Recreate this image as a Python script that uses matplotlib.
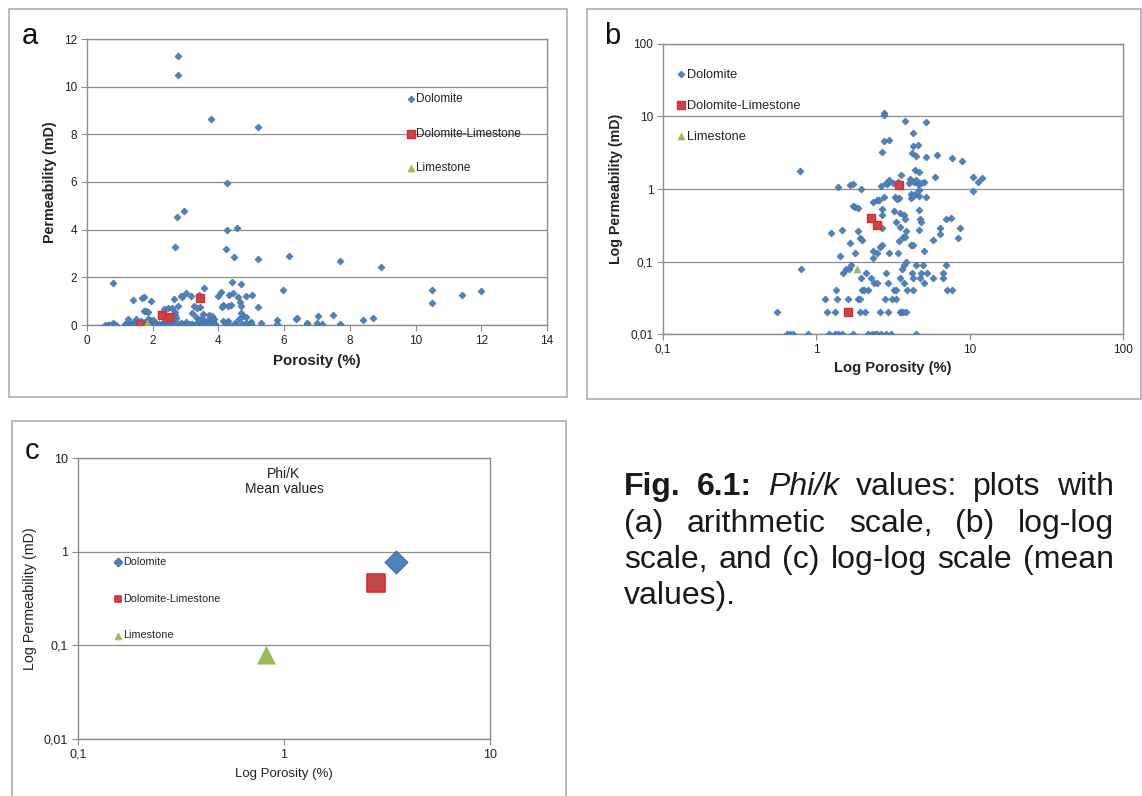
import matplotlib
matplotlib.use("Agg")
import matplotlib.pyplot as plt
from matplotlib.patches import Rectangle
from matplotlib.ticker import NullLocator

plt.rcParams['font.family'] = ['Liberation Sans', 'DejaVu Sans']

# dolomite samples: porosity (%) and permeability (mD)
dol_por = [2.76, 2.78, 3.78, 5.21, 4.26, 2.96, 2.75, 4.26, 4.58, 2.68, 4.23, 4.47, 5.21, 6.14, 7.7,
           8.94, 0.78, 4.41, 4.7, 3.55, 5.95, 10.5, 11.4, 12.0, 10.5,
           1.39, 1.67, 1.74, 1.96, 2.64, 2.9, 3.0, 3.18, 3.41, 4.0, 4.08, 4.33, 4.6, 5.03, 4.45, 4.85, 2.85,
           4.66, 4.7, 5.19, 4.13, 4.12, 4.39, 3.26, 3.44, 1.73, 1.8, 1.87, 2.35, 2.48, 2.58, 2.76, 2.69,
           3.19, 4.7, 3.35, 4.3,
           2.69, 3.52, 3.72, 3.8, 4.76, 3.32, 4.84, 3.5, 2.7, 4.64, 3.86, 1.24, 1.48, 1.87, 5.77, 6.37,
           6.4, 7.04, 7.5, 8.7, 8.4, 1.65, 1.92, 2.0, 3.45, 3.67, 3.8, 4.14, 4.3, 2.69, 2.6, 1.78, 2.34,
           2.5, 3.0, 3.4, 5.0, 1.43, 2.33, 3.86,
           3.74, 3.6, 4.5, 4.96, 7.0, 1.5, 1.57, 1.63, 1.69, 0.8, 2.1, 1.95, 2.27, 2.39, 2.49, 2.86, 2.93,
           3.49, 3.72, 4.27, 4.23, 4.72, 4.84, 5.0, 5.3, 5.77, 6.7, 6.7,
           1.35, 1.99, 2.04, 2.18, 3.2, 3.33, 3.9, 4.3, 7.15, 7.7,
           1.145, 1.37, 1.62, 1.88, 1.94, 2.82, 3.12, 3.33,
           0.55, 1.18, 1.32, 1.92, 2.07, 2.59, 2.93, 3.49, 3.58, 3.70, 3.86,
           0.64, 0.67, 0.70, 0.88, 1.21, 1.32, 1.38, 1.46, 1.73, 2.18, 2.30, 2.40, 2.47, 2.65, 2.85,
           3.05, 4.5]
dol_perm = [11.3, 10.5, 8.65, 8.3, 5.95, 4.78, 4.55, 3.98, 4.06, 3.28, 3.18, 2.84, 2.77, 2.9, 2.69,
            2.44, 1.75, 1.82, 1.71, 1.57, 1.48, 1.48, 1.26, 1.41, 0.94,
            1.05, 1.12, 1.16, 1.0, 1.09, 1.16, 1.33, 1.2, 1.25, 1.2, 1.37, 1.25, 1.16, 1.26, 1.35, 1.2, 1.2,
            0.98, 0.8, 0.77, 0.84, 0.74, 0.85, 0.78, 0.74, 0.59, 0.57, 0.55, 0.66, 0.71, 0.70, 0.78, 0.53,
            0.50, 0.52, 0.72, 0.8,
            0.44, 0.46, 0.44, 0.38, 0.38, 0.35, 0.35, 0.30, 0.29, 0.27, 0.26, 0.25, 0.27, 0.26, 0.20, 0.24,
            0.29, 0.39, 0.40, 0.29, 0.21, 0.18, 0.21, 0.20, 0.19, 0.22, 0.22, 0.17, 0.17, 0.17, 0.16, 0.13, 0.14,
            0.13, 0.13, 0.13, 0.14, 0.12, 0.11, 0.10,
            0.09, 0.08, 0.09, 0.09, 0.09, 0.07, 0.08, 0.08, 0.09, 0.08, 0.07, 0.06, 0.06, 0.05, 0.05, 0.07, 0.05,
            0.06, 0.05, 0.06, 0.07, 0.06, 0.07, 0.05, 0.07, 0.06, 0.07, 0.06,
            0.04, 0.04, 0.04, 0.04, 0.04, 0.04, 0.04, 0.04, 0.04, 0.04,
            0.03, 0.03, 0.03, 0.03, 0.03, 0.03, 0.03, 0.03,
            0.02, 0.02, 0.02, 0.02, 0.02, 0.02, 0.02, 0.02, 0.02, 0.02, 0.02,
            0.01, 0.01, 0.01, 0.01, 0.01, 0.01, 0.01, 0.01, 0.01, 0.01, 0.01, 0.01, 0.01, 0.01, 0.01,
            0.01, 0.01]

dl_por = [1.6, 2.27, 2.5, 3.45]
dl_perm = [0.02, 0.40, 0.32, 1.14]

ls_por = [1.84]
ls_perm = [0.08]

# mean values (panel c)
mean_names = ['Dolomite', 'Dolomite-Limestone', 'Limestone']
mean_por = [3.49, 2.80, 0.82]
mean_perm = [0.77, 0.46, 0.079]

blue, blue_e = '#4F81BD', '#3F6EA8'
red, red_e = '#BE4B48', '#E8262B'
green = '#9BBB59'
grid_c = '#8C8C8C'
txt_c = '#222222'

W, H = 1142, 796
fig = plt.figure(figsize=(W / 100, H / 100), dpi=100)


def fbox(x0, y0, x1, y1):
    return [x0 / W, 1 - y1 / H, (x1 - x0) / W, (y1 - y0) / H]


# panel frames
for x0, y0, x1, y1 in [(9, 9, 567, 397), (587, 9, 1141, 399), (12, 421, 566, 810)]:
    fig.patches.append(Rectangle((x0 / W, 1 - y1 / H), (x1 - x0) / W, (y1 - y0) / H,
                                 transform=fig.transFigure, fill=False, ec='#B4B4B4', lw=1.3))


def style(ax, fs):
    for s in ax.spines.values():
        s.set_color(grid_c)
        s.set_linewidth(1.0)
    ax.tick_params(which='both', direction='out', length=4, color=grid_c, labelsize=fs,
                   labelcolor=txt_c, pad=3)
    ax.grid(axis='y', color=grid_c, lw=0.9)
    ax.set_axisbelow(True)


def scatter_all(ax):
    ax.scatter(dol_por, dol_perm, marker='D', s=13, c=blue, edgecolors=blue_e, lw=0.4,
               label='Dolomite', zorder=3)
    ax.scatter(dl_por, dl_perm, marker='s', s=28, c=red, edgecolors=red_e, lw=1.0,
               label='Dolomite-Limestone', zorder=4)
    ax.scatter(ls_por, ls_perm, marker='^', s=26, c=green, edgecolors=green, lw=0.4,
               label='Limestone', zorder=5)


# ---- panel a : arithmetic
ax1 = fig.add_axes(fbox(87, 39, 547, 325))
scatter_all(ax1)
ax1.set_xlim(0, 14)
ax1.set_ylim(0, 12)
ax1.set_xticks(range(0, 15, 2))
ax1.set_yticks(range(0, 13, 2))
style(ax1, 8.5)
ax1.set_xlabel('Porosity (%)', fontsize=10.8, weight='bold', color=txt_c, labelpad=5)
ax1.set_ylabel('Permeability (mD)', fontsize=10.3, weight='bold', color=txt_c, labelpad=5)
ax1.legend(loc='upper left', bbox_to_anchor=(0.687, 0.826), frameon=False, fontsize=8.5,
           labelspacing=1.9, handlelength=0.5, handletextpad=0.2, borderaxespad=0,
           labelcolor=txt_c)

# ---- panel b : log-log
ax2 = fig.add_axes(fbox(663, 44, 1123, 334))
scatter_all(ax2)
ax2.set_xscale('log')
ax2.set_yscale('log')
ax2.set_xlim(0.1, 100)
ax2.set_ylim(0.01, 100)
ax2.set_xticks([0.1, 1, 10, 100], labels=['0,1', '1', '10', '100'])
ax2.set_yticks([0.01, 0.1, 1, 10, 100], labels=['0,01', '0,1', '1', '10', '100'])
ax2.xaxis.set_minor_locator(NullLocator())
ax2.yaxis.set_minor_locator(NullLocator())
style(ax2, 8.5)
ax2.set_xlabel('Log Porosity (%)', fontsize=10.6, weight='bold', color=txt_c, labelpad=4)
ax2.set_ylabel('Log Permeability (mD)', fontsize=10.2, weight='bold', color=txt_c, labelpad=5)
ax2.legend(loc='upper left', bbox_to_anchor=(0.02, 0.932), frameon=False, fontsize=9.2,
           labelspacing=1.48, handlelength=0.5, handletextpad=0.25, borderaxespad=0,
           labelcolor=txt_c)

# ---- panel c : mean values
ax3 = fig.add_axes(fbox(78, 458, 490, 739))
ax3.scatter(mean_por[0], mean_perm[0], marker='D', s=135, c=blue, edgecolors=blue_e, lw=0.8,
            label=mean_names[0], zorder=3)
ax3.scatter(mean_por[1], mean_perm[1], marker='s', s=150, c=red, edgecolors=red_e, lw=1.2,
            label=mean_names[1], zorder=3)
ax3.scatter(mean_por[2], mean_perm[2], marker='^', s=150, c=green, edgecolors=green, lw=0.8,
            label=mean_names[2], zorder=3)
ax3.set_xscale('log')
ax3.set_yscale('log')
ax3.set_xlim(0.1, 10)
ax3.set_ylim(0.01, 10)
ax3.set_xticks([0.1, 1, 10], labels=['0,1', '1', '10'])
ax3.set_yticks([0.01, 0.1, 1, 10], labels=['0,01', '0,1', '1', '10'])
ax3.xaxis.set_minor_locator(NullLocator())
ax3.yaxis.set_minor_locator(NullLocator())
style(ax3, 9)
ax3.set_xlabel('Log Porosity (%)', fontsize=9.5, color=txt_c, labelpad=5)
ax3.set_ylabel('Log Permeability (mD)', fontsize=10.3, color=txt_c, labelpad=5)
ax3.text(0.5, 0.967, 'Phi/K\nMean values', transform=ax3.transAxes, ha='center', va='top',
         fontsize=10, color=txt_c, linespacing=1.1)
ax3.legend(loc='upper left', bbox_to_anchor=(0.08, 0.662), frameon=False, fontsize=7.8,
           markerscale=0.38, labelspacing=2.45, handlelength=0.5, handletextpad=0.2,
           borderaxespad=0, labelcolor=txt_c)

# panel letters
fig.text(30 / W, 1 - 44 / H, 'a', fontsize=21, ha='center', va='baseline', color='#111111')
fig.text(612 / W, 1 - 44 / H, 'b', fontsize=21, ha='center', va='baseline', color='#111111')
fig.text(32 / W, 1 - 459 / H, 'c', fontsize=21, ha='center', va='baseline', color='#111111')

# caption, justified
cap_lines = [
    [('Fig.', 'bold', 'normal'), ('6.1:', 'bold', 'normal'), ('Phi/k', 'normal', 'italic'),
     ('values:', 'normal', 'normal'), ('plots', 'normal', 'normal'), ('with', 'normal', 'normal')],
    [('(a)', 'normal', 'normal'), ('arithmetic', 'normal', 'normal'), ('scale,', 'normal', 'normal'),
     ('(b)', 'normal', 'normal'), ('log-log', 'normal', 'normal')],
    [('scale,', 'normal', 'normal'), ('and', 'normal', 'normal'), ('(c)', 'normal', 'normal'),
     ('log-log', 'normal', 'normal'), ('scale', 'normal', 'normal'), ('(mean', 'normal', 'normal')],
    [('values).', 'normal', 'normal')],
]
cap_base = [495, 532, 568, 604]
cap_x0, cap_x1 = 624, 1114
renderer = fig.canvas.get_renderer()
for words, yb in zip(cap_lines, cap_base):
    texts = [fig.text(0, 1 - yb / H, w, fontsize=23, weight=wt, style=st, va='baseline',
                      ha='left', color='#1a1a1a') for w, wt, st in words]
    widths = [t.get_window_extent(renderer).width for t in texts]
    if len(texts) > 1:
        gap = (cap_x1 - cap_x0 - sum(widths)) / (len(texts) - 1)
    else:
        gap = 0
    x = cap_x0
    for t, wd in zip(texts, widths):
        t.set_x(x / W)
        x += wd + gap

fig.savefig('out.png', dpi=100)
